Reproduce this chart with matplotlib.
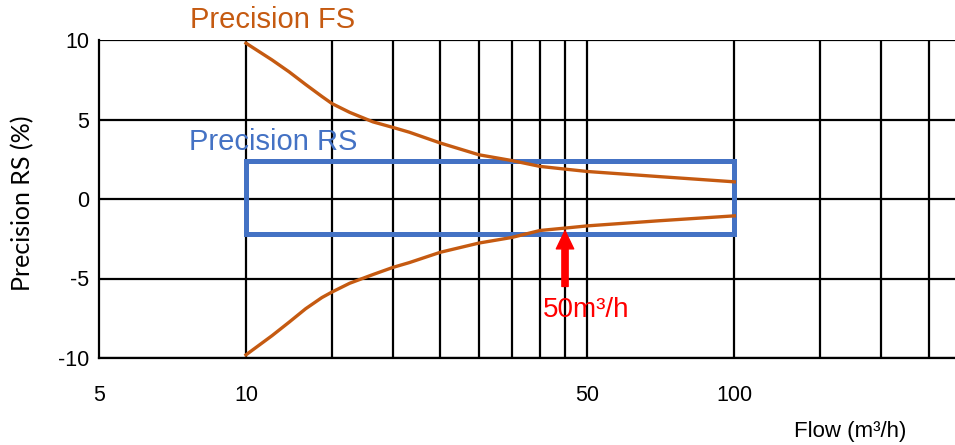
import numpy as np
import matplotlib
matplotlib.use('Agg')
from matplotlib import pyplot as plt

# valores
flow = [10, 11.3, 12.25, 13.25, 14.3, 15, 16.3, 18.2, 20, 21.6, 25, 30, 35,
        40, 45, 50, 70, 100]
prec_fs_up = [9.8, 8.75, 8.0, 7.2, 6.45, 6.0, 5.45, 4.85, 4.5, 4.2, 3.52, 2.78,
              2.42, 2.05, 1.88, 1.73, 1.41, 1.08]
prec_fs_down = [-9.8, -8.6, -7.75, -6.9, -6.2, -5.85, -5.3, -4.75, -4.3, -4.0,
                -3.35, -2.77, -2.42, -1.98, -1.83, -1.69, -1.37, -1.06]
rs_x = [10, 100]
rs_y = [-2.2, 2.4]
flecha_x = 45
flecha_y = [-5.5, -2.0]

grid_x = [10, 15, 20, 25, 30, 35, 40, 45, 50, 100, 150, 200, 250]
grid_y = [-10, -5, 0, 5, 10]
xticks = [5, 10, 50, 100]
yticks = [-10, -5, 0, 5, 10]

naranja = '#C55A11'
azul = '#4472C4'
rojo = '#FF0000'

plt.rcParams['font.family'] = ['Liberation Sans', 'DejaVu Sans']

fig = plt.figure(figsize=(9.55, 4.45), dpi=100)
ax = fig.add_axes([99 / 955, 1 - 358 / 445, 1 - 99 / 955, 318 / 445])
ax.set_xscale('log')
ax.set_xlim(5, 283)
ax.set_ylim(-10, 10)

for gx in grid_x:
    ax.axvline(gx, color='black', lw=1.6, zorder=1)
for gy in grid_y:
    ax.axhline(gy, color='black', lw=1.6, zorder=1)

for s in ['top', 'right']:
    ax.spines[s].set_visible(False)
for s in ['left', 'bottom']:
    ax.spines[s].set_linewidth(1.6)

ax.set_xticks(xticks)
ax.set_xticklabels([str(t) for t in xticks])
ax.xaxis.set_minor_locator(matplotlib.ticker.NullLocator())
ax.set_yticks(yticks)
ax.set_yticklabels([str(t) for t in yticks])
ax.tick_params(length=0, labelsize=15.5)
ax.tick_params(axis='x', pad=19.5)
ax.tick_params(axis='y', pad=7)

ax.plot(flow, prec_fs_up, color=naranja, lw=2.4, zorder=3)
ax.plot(flow, prec_fs_down, color=naranja, lw=2.4, zorder=3)

ax.plot([rs_x[0], rs_x[1], rs_x[1], rs_x[0], rs_x[0]],
        [rs_y[0], rs_y[0], rs_y[1], rs_y[1], rs_y[0]],
        color=azul, lw=3.6, zorder=2, solid_joinstyle='miter')

ax.annotate('', xy=(flecha_x, flecha_y[1]), xytext=(flecha_x, flecha_y[0]),
            arrowprops=dict(width=4.5, headwidth=12.5, headlength=13,
                            facecolor=rojo, edgecolor=rojo, shrink=0),
            zorder=4)
ax.text(40.5, -7.0, '50m³/h', color=rojo, fontsize=20, ha='left',
        va='center')

fig.text(190 / 955, 1 - 20 / 445, 'Precision FS', color=naranja,
         fontsize=21, ha='left', va='center')
ax.text(7.64, 3.58, 'Precision RS', color=azul, fontsize=21, ha='left',
        va='center')

fig.text(23 / 955, 1 - 203 / 445, 'Precision RS (%)', rotation=90,
         fontsize=18, ha='center', va='center', family=['Lato', 'DejaVu Sans'])
fig.text(850 / 955, 1 - 432 / 445, 'Flow (m³/h)', fontsize=16,
         ha='center', va='center')

fig.savefig('out.png', dpi=100)
